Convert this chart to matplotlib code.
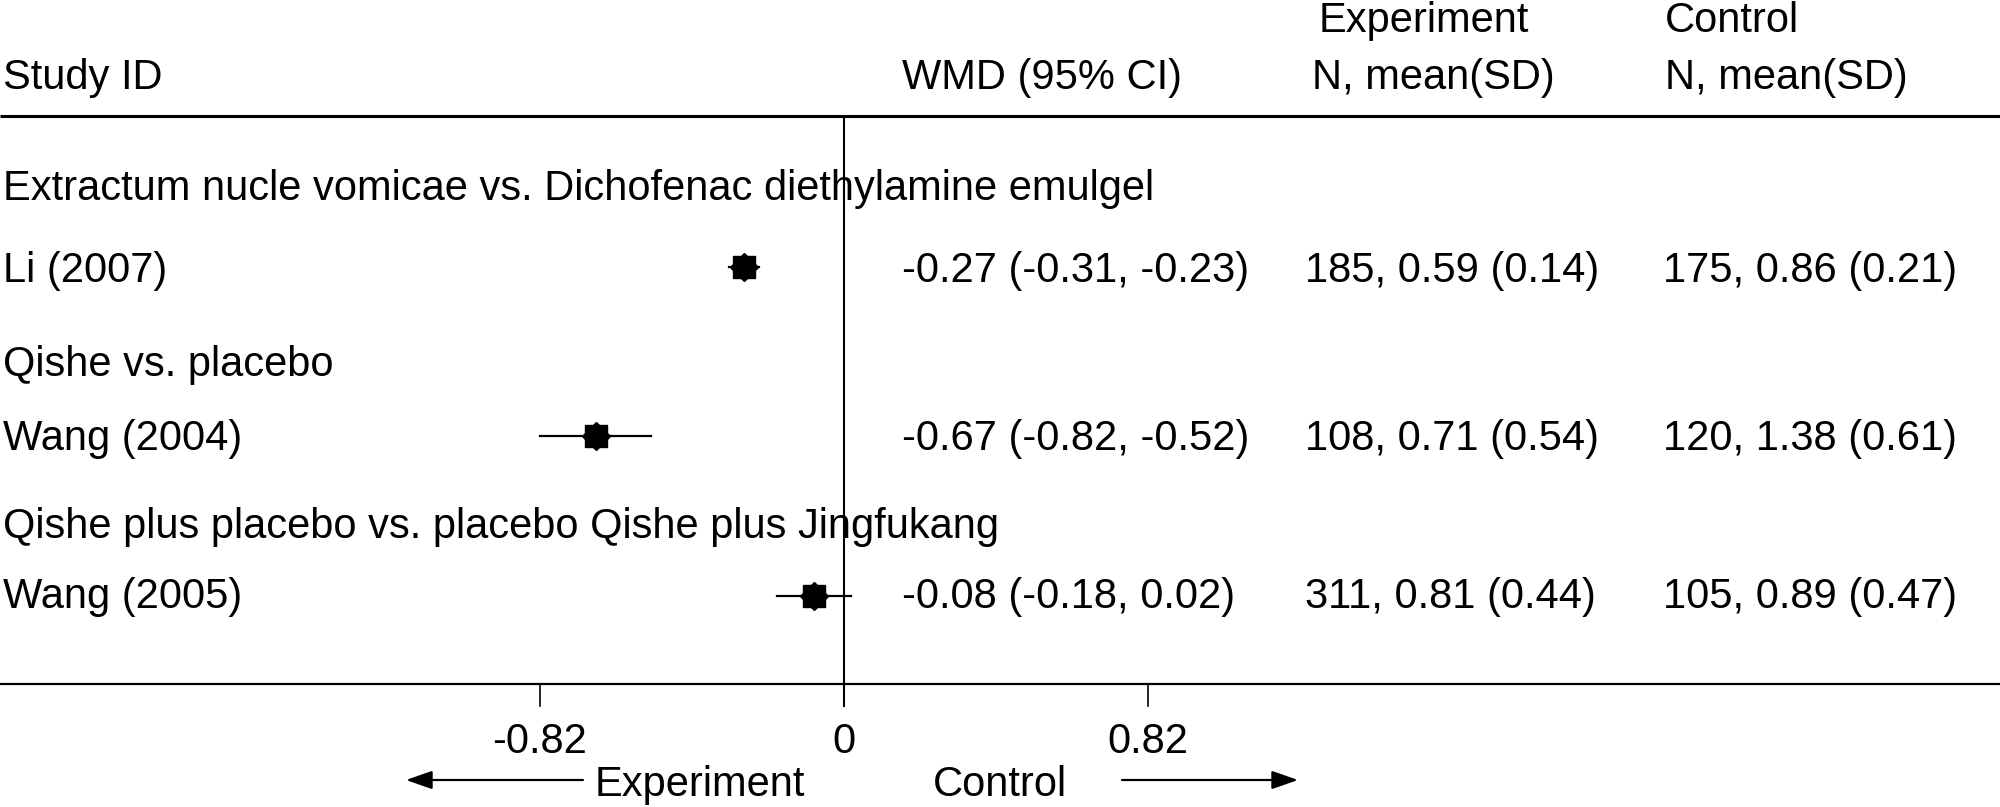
import matplotlib.pyplot as plt
from matplotlib.transforms import blended_transform_factory

plt.rcParams['font.family'] = ['Liberation Sans', 'DejaVu Sans']

# data
groups = ["Extractum nucle vomicae vs. Dichofenac diethylamine emulgel",
          "Qishe vs. placebo",
          "Qishe plus placebo vs. placebo Qishe plus Jingfukang"]
studies = ["Li (2007)", "Wang (2004)", "Wang (2005)"]
wmd = [-0.27, -0.67, -0.08]
ci_lo = [-0.31, -0.82, -0.18]
ci_hi = [-0.23, -0.52, 0.02]
exp_txt = ["185, 0.59 (0.14)", "108, 0.71 (0.54)", "311, 0.81 (0.44)"]
ctrl_txt = ["175, 0.86 (0.21)", "120, 1.38 (0.61)", "105, 0.89 (0.47)"]
xticks = [-0.82, 0, 0.82]
xticklabels = ["-0.82", "0", "0.82"]

# layout (pixels)
W, H = 2000, 807
x0_px = 844.0       # position of zero
px_per_unit = 370.7
group_y = [200, 376, 538]
study_y = [282, 450, 608]
mark_y = [267, 436, 596]
top_line, bot_line, tick_end = 116, 684, 706
fs = 30

fig = plt.figure(figsize=(W / 100, H / 100), dpi=100)
ax = fig.add_axes([0, 0, 1, 1])
ax.set_xlim(-x0_px / px_per_unit, (W - x0_px) / px_per_unit)
ax.set_ylim(H, 0)
ax.axis('off')
tr = blended_transform_factory(ax.transAxes, ax.transData)

def fx(px):
    return px / W

# header
ax.text(fx(3), 89, "Study ID", transform=tr, fontsize=fs, va='baseline')
ax.text(fx(902), 89, "WMD (95% CI)", transform=tr, fontsize=fs, va='baseline')
ax.text(fx(1319), 32, "Experiment", transform=tr, fontsize=fs, va='baseline')
ax.text(fx(1312), 89, "N, mean(SD)", transform=tr, fontsize=fs, va='baseline')
ax.text(fx(1665), 32, "Control", transform=tr, fontsize=fs, va='baseline')
ax.text(fx(1665), 89, "N, mean(SD)", transform=tr, fontsize=fs, va='baseline')

# horizontal rules
ax.plot([0, 1], [top_line, top_line], transform=tr, color='black', lw=2.2, solid_capstyle='butt')
ax.plot([0, 1], [bot_line, bot_line], transform=tr, color='black', lw=1.6, solid_capstyle='butt')

# null line
ax.plot([0, 0], [top_line, tick_end], color='black', lw=1.5)

# rows
for i in range(len(studies)):
    ax.text(fx(3), group_y[i], groups[i], transform=tr, fontsize=fs, va='baseline')
    ax.text(fx(3), study_y[i], studies[i], transform=tr, fontsize=fs, va='baseline')
    ax.text(fx(902), study_y[i], f"{wmd[i]:.2f} ({ci_lo[i]:.2f}, {ci_hi[i]:.2f})",
            transform=tr, fontsize=fs, va='baseline')
    ax.text(fx(1305), study_y[i], exp_txt[i], transform=tr, fontsize=fs, va='baseline')
    ax.text(fx(1663), study_y[i], ctrl_txt[i], transform=tr, fontsize=fs, va='baseline')
    ax.plot([ci_lo[i], ci_hi[i]], [mark_y[i], mark_y[i]], color='black', lw=1.6)
    ax.plot(wmd[i], mark_y[i], marker='s', ms=16.5, color='black', mec='black')
    ax.plot(wmd[i], mark_y[i], marker='D', ms=14.6, color='black', mec='black')

# x axis ticks
for t, lab in zip(xticks, xticklabels):
    ax.plot([t, t], [bot_line, tick_end], color='black', lw=1.2)
    ax.text(t, 753, lab, fontsize=fs, ha='center', va='baseline')

# direction labels
ax.text(fx(700), 796, "Experiment", transform=tr, fontsize=fs, ha='center', va='baseline')
ax.text(fx(1000), 796, "Control", transform=tr, fontsize=fs, ha='center', va='baseline')
aprops = dict(arrowstyle='-|>,head_length=0.8,head_width=0.28', color='black',
              lw=1.6, shrinkA=0, shrinkB=0, mutation_scale=20)
ax.annotate("", xy=(fx(406), 780), xytext=(fx(583), 780), xycoords=tr,
            textcoords=tr, arrowprops=aprops)
ax.annotate("", xy=(fx(1298), 780), xytext=(fx(1122), 780), xycoords=tr,
            textcoords=tr, arrowprops=aprops)

fig.savefig('out.png', dpi=100)
